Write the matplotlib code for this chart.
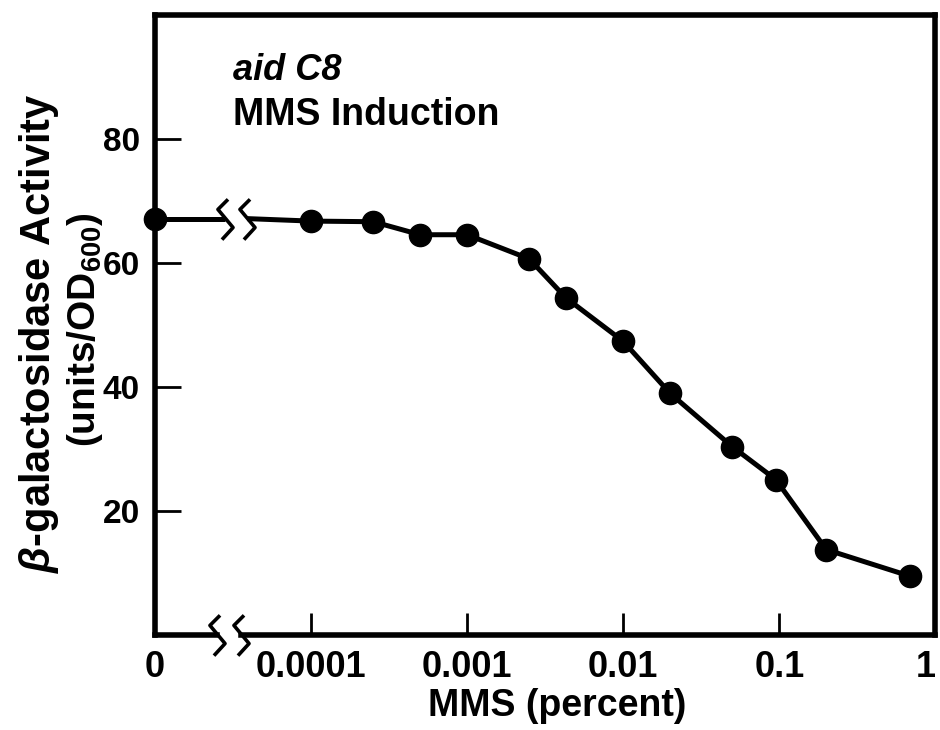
import numpy as np
import matplotlib
matplotlib.use("Agg")
import matplotlib.pyplot as plt
from matplotlib.path import Path

# values; the "0" dose sits at 1e-5 on the log axis
mms_percent = [0, 1e-4, 2.5e-4, 5e-4, 1e-3, 2.5e-3, 4.3e-3, 0.01, 0.02, 0.05, 0.095, 0.2, 0.69]
activity = [67.2, 66.8, 66.7, 64.6, 64.6, 60.7, 54.4, 47.4, 39.0, 30.4, 25.1, 13.8, 9.5]
zero_pos = 1e-5

xticks = [1e-5, 1e-4, 1e-3, 1e-2, 1e-1, 1]
xtick_labels = ["0", "0.0001", "0.001", "0.01", "0.1", "1"]
yticks = [20, 40, 60, 80]

# break positions (axis and data line)
axis_breaks = [2.5e-5, 3.56e-5]
line_breaks = [2.81e-5, 3.89e-5]

plt.rcParams['font.family'] = ['Liberation Sans', 'DejaVu Sans']
plt.rcParams['font.weight'] = 'bold'
plt.rcParams['mathtext.fontset'] = 'custom'
plt.rcParams['mathtext.rm'] = 'Liberation Sans:bold'
plt.rcParams['mathtext.it'] = 'Liberation Sans:italic:bold'
plt.rcParams['mathtext.bf'] = 'Liberation Sans:bold'

tick_font = ['Liberation Sans Narrow', 'Liberation Sans', 'DejaVu Sans']

# zigzag used for the break marks
zig = Path([(0.125, 1.0), (-0.375, 0.5), (0.375, -0.4), (-0.175, -1.0)],
           [Path.MOVETO, Path.LINETO, Path.LINETO, Path.LINETO])

fig = plt.figure(figsize=(9.4, 7.3), dpi=100)
ax = fig.add_axes([0.165, 0.130, 0.830, 0.849])

x = [zero_pos if v == 0 else v for v in mms_percent]
y = activity

# data line, broken between 0 and 0.0001
ax.plot([x[0], line_breaks[0]], [y[0], y[0]], color='black', lw=3.6, clip_on=False,
        solid_capstyle='butt')
ax.plot([line_breaks[1]] + x[1:], [y[0]] + y[1:], color='black', lw=3.6,
        solid_capstyle='butt')
ax.plot(x, y, ls='none', marker='o', ms=16, color='black', clip_on=False, zorder=5)
ax.plot(line_breaks, [y[0], y[0]], ls='none', marker=zig, ms=29, mfc='none',
        mec='black', mew=2.6, clip_on=False)

ax.set_xscale('log')
ax.set_xlim(zero_pos, 1)
ax.set_ylim(0, 100)

# bottom spine drawn by hand so it can carry the break
ax.spines['bottom'].set_visible(False)
xt = ax.get_xaxis_transform()
ax.plot([zero_pos, axis_breaks[0]], [0, 0], transform=xt, color='black', lw=4,
        clip_on=False, solid_capstyle='projecting')
ax.plot([axis_breaks[1], 1], [0, 0], transform=xt, color='black', lw=4,
        clip_on=False, solid_capstyle='projecting')
ax.plot(axis_breaks, [0, 0], transform=xt, ls='none', marker=zig, ms=29, mfc='none',
        mec='black', mew=2.6, clip_on=False)

for s in ['left', 'top', 'right']:
    ax.spines[s].set_linewidth(4)

ax.set_xticks(xticks)
ax.set_xticklabels(xtick_labels)
ax.xaxis.set_minor_locator(matplotlib.ticker.NullLocator())
ax.set_yticks(yticks)
ax.tick_params(axis='x', direction='in', length=16, width=2, pad=11)
ax.tick_params(axis='y', direction='in', length=19, width=2, pad=11)
for lab in ax.get_xticklabels():
    lab.set_family(tick_font)
    lab.set_fontsize(26)
    lab.set_fontweight('bold')
for lab in ax.get_yticklabels():
    lab.set_family(tick_font)
    lab.set_fontsize(24)
    lab.set_fontweight('bold')
ax.get_xticklabels()[-1].set_horizontalalignment('right')

ax.set_xlabel('MMS (percent)', fontsize=27, fontweight='bold', labelpad=2)
ax.xaxis.set_label_coords(0.515, -0.085)

fig.text(0.042, 0.543, r'$\it{\beta}$-galactosidase Activity', rotation=90,
         ha='center', va='center', fontsize=30, fontweight='bold')
fig.text(0.090, 0.548, r'(units/OD$_{600}$)', rotation=90,
         ha='center', va='center', fontsize=28, fontweight='bold')

ax.text(0.1, 0.895, 'aid C8', transform=ax.transAxes, fontsize=26,
        fontweight='bold', fontstyle='italic', va='baseline')
ax.text(0.1, 0.823, 'MMS Induction', transform=ax.transAxes, fontsize=27,
        fontweight='bold', va='baseline')

fig.savefig('out.png', dpi=100)
